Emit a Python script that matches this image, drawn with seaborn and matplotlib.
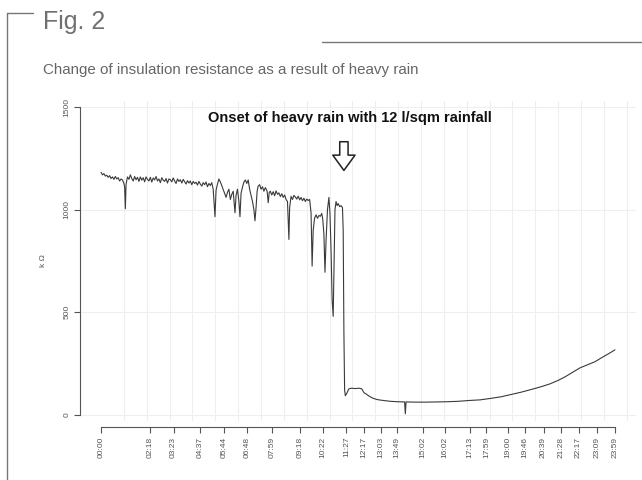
import numpy as np
import pandas as pd
import seaborn as sns
import matplotlib.pyplot as plt
from matplotlib.lines import Line2D
from matplotlib.ticker import MultipleLocator

# minutes since midnight and insulation resistance in kOhm
# (rows of the two lists line up one to one)
minutes = [
    0, 4, 8, 12, 16, 20, 24, 28, 32, 36,
    40, 44, 48, 52, 56, 60, 64, 66, 68, 70,
    74, 78, 82, 86, 90, 94, 98, 102, 106, 110,
    114, 118, 122, 126, 130, 134, 138, 142, 146, 150,
    154, 158, 162, 166, 170, 174, 178, 182, 186, 190,
    194, 198, 202, 206, 210, 214, 218, 222, 226, 230,
    234, 238, 242, 246, 250, 254, 258, 262, 266, 270,
    274, 278, 282, 286, 290, 294, 298, 302, 306, 310,
    314, 319, 322, 326, 330, 334, 338, 342, 346, 350,
    354, 358, 362, 366, 370, 375, 378, 382, 386, 389,
    392, 396, 400, 404, 408, 412, 416, 420, 424, 428,
    431, 434, 437, 440, 444, 448, 452, 456, 460, 465,
    468, 471, 474, 478, 482, 486, 490, 494, 498, 502,
    506, 510, 514, 518, 522, 526, 528, 532, 536, 540,
    544, 548, 552, 556, 560, 564, 568, 572, 576, 580,
    584, 588, 591, 594, 598, 602, 606, 610, 614, 618,
    621, 624, 627, 630, 634, 638, 641, 644, 647, 650,
    652, 655, 658, 661, 664, 668, 672, 676, 678, 680,
    682, 684, 688, 694, 702, 712, 722, 730, 736, 742,
    750, 760, 772, 782, 795, 810, 830, 850, 852, 854,
    880, 910, 940, 970, 1000, 1030, 1061, 1090, 1120, 1145,
    1175, 1201, 1230, 1257, 1280, 1299, 1320, 1341, 1362, 1383,
    1405, 1425, 1439,
]
resistance = [
    1182, 1170, 1176, 1164, 1168, 1158, 1166, 1152, 1160, 1148,
    1162, 1150, 1156, 1140, 1150, 1145, 1128, 1110, 1005, 1125,
    1160, 1148, 1170, 1152, 1140, 1162, 1146, 1158, 1138, 1160,
    1144, 1156, 1136, 1160, 1148, 1140, 1158, 1135, 1155, 1145,
    1162, 1140, 1150, 1132, 1156, 1144, 1138, 1152, 1130, 1150,
    1146, 1136, 1155, 1140, 1128, 1150, 1138, 1146, 1130, 1148,
    1136, 1125, 1142, 1130, 1140, 1122, 1138, 1128, 1134, 1120,
    1138, 1125, 1115, 1132, 1122, 1135, 1112, 1128, 1118, 1132,
    1100, 966, 1095, 1125, 1150, 1135, 1118, 1098, 1080, 1060,
    1085, 1100, 1050, 1075, 1090, 985, 1070, 1100, 1040, 966,
    1080, 1110, 1135, 1145, 1128, 1145, 1100, 1070, 1040, 1000,
    946, 1010, 1090, 1115, 1122, 1100, 1112, 1090, 1108, 1090,
    1034, 1085, 1090, 1072, 1088, 1068, 1092, 1075, 1082, 1064,
    1078, 1060, 1072, 1050, 1040, 855, 1010, 1065, 1050, 1070,
    1062, 1052, 1066, 1048, 1060, 1044, 1056, 1040, 1052, 1045,
    1050, 985, 725, 900, 960, 975, 958, 972, 968, 982,
    950, 880, 695, 850, 1000, 1060, 980, 800, 560, 480,
    700, 1000, 1040, 1020, 1030, 1015, 1020, 1010, 900, 400,
    120, 93, 105, 127, 130, 128, 130, 127, 108, 102,
    92, 82, 75, 72, 69, 66, 64, 63, 5, 63,
    62, 62, 63, 64, 66, 70, 73, 80, 88, 98,
    110, 122, 136, 151, 168, 185, 207, 229, 244, 259,
    282, 302, 317,
]
tick_labels = [
    "00:00", "02:18", "03:23", "04:37", "05:44", "06:48", "07:59", "09:18", "10:22",
    "11:27", "12:17", "13:03", "13:49", "15:02", "16:02", "17:13", "17:59", "19:00",
    "19:46", "20:39", "21:28", "22:17", "23:09", "23:59",
]
y_ticks = [0, 500, 1000, 1500]
annotation = "Onset of heavy rain with 12 l/sqm rainfall"
rain_onset = 680  # minutes

df = pd.DataFrame({"minute": minutes, "kohm": resistance})
tick_pos = [int(t[:2]) * 60 + int(t[3:]) for t in tick_labels]

sns.set_style("white")
plt.rcParams["font.family"] = ["Liberation Sans", "DejaVu Sans"]

fig = plt.figure(figsize=(6.42, 4.8), dpi=100)
ax = fig.add_axes([0.1246, 0.1229, 0.8661, 0.6667])

sns.lineplot(data=df, x="minute", y="kohm", ax=ax, color="#3a3a3a", linewidth=0.8)

ax.set_xlim(-59, 1498)
ax.set_ylim(-30, 1530)

# faint R-style grid
ax.xaxis.set_minor_locator(MultipleLocator(64))
ax.grid(True, which="minor", axis="x", color="#efefef", linewidth=0.8)
for v in y_ticks:
    ax.axhline(v, color="#efefef", linewidth=0.8, zorder=0)

for side in ["top", "right"]:
    ax.spines[side].set_visible(False)
ax.spines["left"].set_bounds(0, 1500)
ax.spines["left"].set_color("#555555")
ax.spines["left"].set_linewidth(0.8)
ax.spines["bottom"].set_position(("outward", 4.5))
ax.spines["bottom"].set_bounds(0, 1439)
ax.spines["bottom"].set_color("#555555")
ax.spines["bottom"].set_linewidth(0.8)

ax.set_xticks(tick_pos)
ax.set_xticklabels(tick_labels, rotation=90, fontsize=6, color="#555555")
ax.set_yticks(y_ticks)
ax.set_yticklabels([str(v) for v in y_ticks], rotation=90, va="center",
                   fontsize=6, color="#555555")
ax.tick_params(axis="both", which="major", length=4, width=0.8, color="#555555",
               direction="out", bottom=True, left=True, pad=3)
ax.tick_params(axis="x", which="minor", length=0)
ax.set_xlabel("")
ax.set_ylabel("k \u03a9", fontsize=6, color="#555555", labelpad=12)

ax.text(697, 1445, annotation, ha="center", va="center", fontsize=10.5,
        fontweight="bold", color="#111111")
ax.annotate("", xy=(rain_onset, 1178), xytext=(rain_onset, 1345),
            arrowprops=dict(arrowstyle="simple,head_width=1.6,head_length=1.1,tail_width=0.6",
                            fc="white", ec="#222222", lw=1.1))

# page decorations
fig.text(43 / 642, 1 - 22 / 480, "Fig. 2", fontsize=18, color="#707070",
         ha="left", va="center")
fig.text(43 / 642, 1 - 70 / 480,
         "Change of insulation resistance as a result of heavy rain",
         fontsize=10.9, color="#666666", ha="left", va="center")
fig.add_artist(Line2D([7 / 642, 7 / 642], [0, 1 - 13 / 480], color="#777777", lw=1.0))
fig.add_artist(Line2D([7 / 642, 33 / 642], [1 - 13 / 480, 1 - 13 / 480],
                      color="#777777", lw=1.0))
fig.add_artist(Line2D([322 / 642, 1], [1 - 42 / 480, 1 - 42 / 480],
                      color="#777777", lw=1.0))

fig.savefig("out.png", dpi=100, facecolor="white")
